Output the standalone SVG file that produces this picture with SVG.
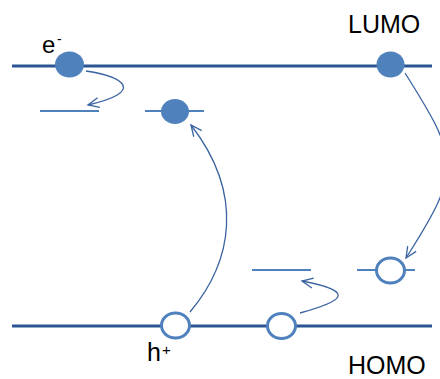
<svg xmlns="http://www.w3.org/2000/svg" width="440" height="379" viewBox="0 0 440 379">
<defs>
<style>
.level{stroke:#2b5592;stroke-width:3;fill:none}
.trap{stroke:#4f81bd;stroke-width:2;fill:none}
.el{fill:#4f81bd}
.hole{fill:#fff;stroke:#4f81bd;stroke-width:3}
.arr{fill:none;stroke:#3a63a0;stroke-width:1.3;marker-end:url(#ah)}
.lbl{font-family:"Liberation Sans",Arial,sans-serif;fill:#000}
</style>
<marker id="ah" markerUnits="userSpaceOnUse" markerWidth="20" markerHeight="20" refX="0" refY="0" orient="auto" overflow="visible">
<path d="M-11,-5 L0,0 L-11,5" fill="none" stroke="#3a63a0" stroke-width="1.3"/>
</marker>
</defs>
<rect width="440" height="379" fill="#fff"/>
<g id="lumo">
<line class="level" x1="12" y1="66" x2="432" y2="66"/>
<text class="lbl" x="348" y="33" font-size="25">LUMO</text>
</g>
<g id="homo">
<line class="level" x1="12" y1="326" x2="432" y2="326"/>
<text class="lbl" x="348" y="374" font-size="25">HOMO</text>
</g>
<g id="trap-top-left"><line class="trap" x1="40" y1="111" x2="99" y2="111"/></g>
<g id="trap-top-mid"><line class="trap" x1="145" y1="111" x2="204" y2="111"/></g>
<g id="trap-bot-mid"><line class="trap" x1="252" y1="270" x2="311" y2="270"/></g>
<g id="trap-bot-right"><line class="trap" x1="357" y1="270" x2="415" y2="270"/></g>
<g id="connectors">
<path class="arr" d="M86,71 C125,77 145,92 88,105"/>
<path class="arr" d="M190,312 C232,262 245,195 191,125"/>
<path class="arr" d="M405,73 C460,160 462,170 406,258"/>
<path class="arr" d="M300,313 C340,302 360,292 302,281"/>
</g>
<g id="electron-1"><ellipse class="el" cx="69.5" cy="64.5" rx="14.5" ry="13"/>
<text class="lbl" x="42" y="53" font-size="24">e</text><text class="lbl" x="57" y="44" font-size="14">-</text></g>
<g id="electron-2"><ellipse class="el" cx="390.5" cy="64.5" rx="14" ry="13"/></g>
<g id="electron-trapped"><ellipse class="el" cx="175" cy="111.5" rx="14" ry="12.5"/></g>
<g id="hole-1"><ellipse class="hole" cx="175.5" cy="325.5" rx="14" ry="12.5"/>
<text class="lbl" x="147" y="361" font-size="25">h</text><text class="lbl" x="162" y="355" font-size="15">+</text></g>
<g id="hole-2"><ellipse class="hole" cx="281.5" cy="326" rx="14" ry="12.5"/></g>
<g id="hole-trapped"><ellipse class="hole" cx="390.5" cy="270.5" rx="14" ry="12.5"/></g>
</svg>
